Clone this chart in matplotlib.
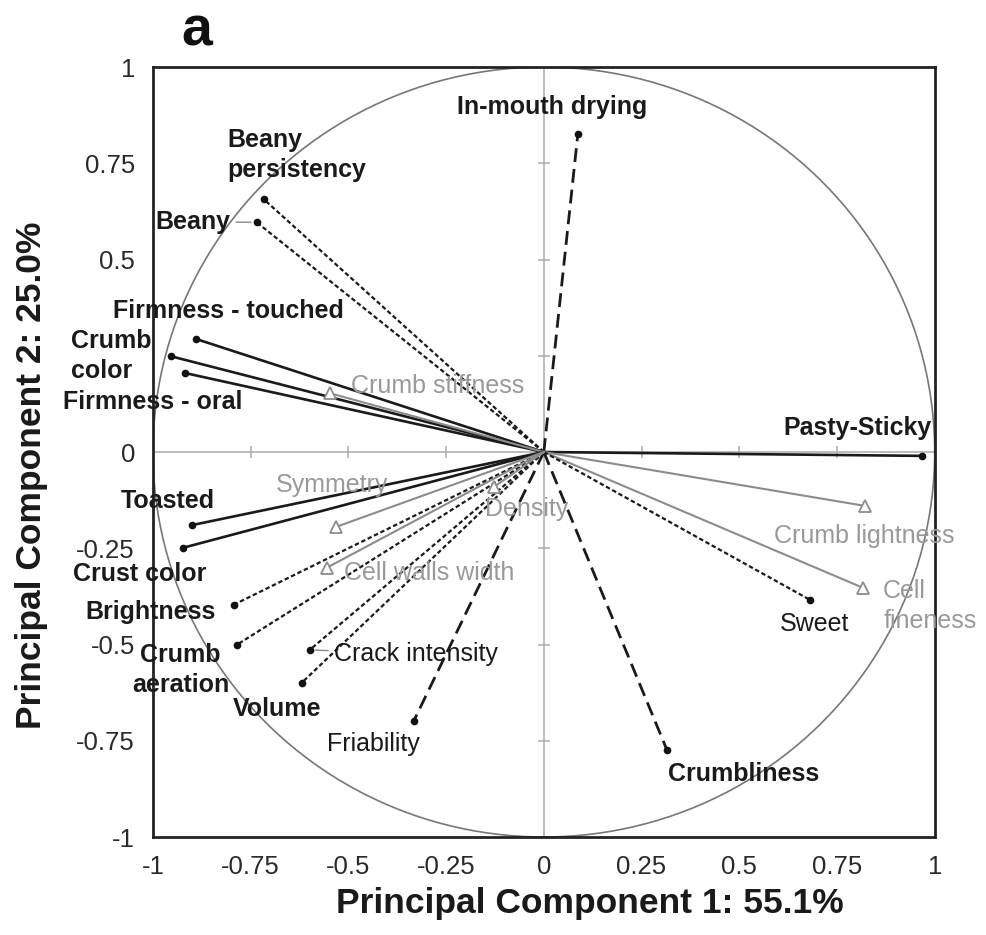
import numpy as np
import matplotlib.pyplot as plt

plt.rcParams['font.family'] = ['Liberation Sans', 'DejaVu Sans']

# PCA loadings
names = ['In-mouth drying', 'Beany\npersistency', 'Beany', 'Firmness - touched',
         'Crumb\ncolor', 'Firmness - oral', 'Crumb stiffness', 'Pasty-Sticky',
         'Crumb lightness', 'Cell\nfineness', 'Sweet', 'Crumbliness', 'Friability',
         'Volume', 'Crack intensity', 'Crumb\naeration', 'Brightness', 'Crust color',
         'Toasted', 'Symmetry', 'Cell walls width', 'Density']
pc1 = [0.087, -0.717, -0.735, -0.891, -0.955, -0.917, -0.548, 0.968,
       0.822, 0.817, 0.681, 0.315, -0.333, -0.620, -0.599, -0.786,
       -0.794, -0.924, -0.901, -0.533, -0.556, -0.128]
pc2 = [0.826, 0.657, 0.597, 0.294, 0.249, 0.205, 0.153, -0.010,
       -0.140, -0.353, -0.384, -0.774, -0.699, -0.600, -0.514, -0.501,
       -0.397, -0.249, -0.190, -0.195, -0.301, -0.091]
group = ['dashed', 'dotted', 'dotted', 'solid', 'solid', 'solid', 'gray', 'solid',
         'gray', 'gray', 'dotted', 'dashed', 'dashed', 'dotted', 'dotted', 'dotted',
         'dotted', 'solid', 'solid', 'gray', 'gray', 'gray']
bold = [True, True, True, True, True, True, False, True,
        False, False, False, True, False, True, False, True,
        True, True, True, False, False, False]

ticks = [-1, -0.75, -0.5, -0.25, 0, 0.25, 0.5, 0.75, 1]
xtick_labels = ['-1', '-0.75', '-0.5', '-0.25', '0', '0.25', '0.5', '0.75', '1']
ytick_labels = ['-1', '-0.75', '-0.5', '-0.25', '0', '', '0.5', '0.75', '1']

# label placement: (dx, dy) in pixels from the point, horizontal alignment
label_pos = {
    'In-mouth drying': (-26, 27, 'center'),
    'Beany\npersistency': (-36, 44, 'left'),
    'Beany': (-26, 0, 'right'),
    'Firmness - touched': (33, 28, 'center'),
    'Crumb\ncolor': (-100, 0, 'left'),
    'Firmness - oral': (-122, -29, 'left'),
    'Crumb stiffness': (21, 7, 'left'),
    'Pasty-Sticky': (9, 28, 'right'),
    'Crumb lightness': (-1, -30, 'center'),
    'Cell\nfineness': (20, -18, 'left'),
    'Sweet': (4, -24, 'center'),
    'Crumbliness': (1, -24, 'left'),
    'Friability': (-40, -23, 'center'),
    'Volume': (-24, -26, 'center'),
    'Crack intensity': (24, -4, 'left'),
    'Crumb\naeration': (-56, -25, 'center'),
    'Brightness': (-18, -7, 'right'),
    'Crust color': (-110, -26, 'left'),
    'Toasted': (-71, 24, 'left'),
    'Symmetry': (-60, 42, 'left'),
    'Cell walls width': (17, -5, 'left'),
    'Density': (-9, -22, 'left'),
}
leaders = ['Beany', 'Crack intensity']

styles = {
    'solid': dict(color='#1a1a1a', lw=1.9, ls='-'),
    'dotted': dict(color='#1a1a1a', lw=1.6, ls=(0, (2, 1.2))),
    'dashed': dict(color='#1a1a1a', lw=2.0, ls=(0, (5, 2.5))),
    'gray': dict(color='#8c8c8c', lw=1.5, ls='-'),
}

fig = plt.figure(figsize=(9.87, 9.35), dpi=100)
ax = fig.add_axes([0.155, 0.1048, 0.792, 0.8235])

# crosshair with small tick marks
ax.axhline(0, color='#b0b0b0', lw=1.2, zorder=1)
ax.axvline(0, color='#b0b0b0', lw=1.2, zorder=1)
tk = np.array(ticks)
ax.plot(tk, np.zeros_like(tk), ls='none', marker='|', ms=9, color='#b0b0b0', mew=1.2, zorder=1)
ax.plot(np.zeros_like(tk), tk, ls='none', marker='_', ms=9, color='#b0b0b0', mew=1.2, zorder=1)

theta = np.linspace(0, 2 * np.pi, 400)
ax.plot(np.cos(theta), np.sin(theta), color='#777777', lw=1.2, zorder=1)

for n, x, y, g, b in zip(names, pc1, pc2, group, bold):
    st = styles[g]
    ax.plot([0, x], [0, y], color=st['color'], lw=st['lw'], ls=st['ls'], zorder=3)
    if g == 'gray':
        ax.plot(x, y, marker='^', ms=9, mfc='white', mec='#8c8c8c', mew=1.3, zorder=4)
        tcol = '#999999'
    else:
        ax.plot(x, y, marker='o', ms=4.5, color='#111111', zorder=4)
        tcol = '#1a1a1a'
    dx, dy, ha = label_pos[n]
    arrow = dict(arrowstyle='-', color='#888888', lw=1, shrinkA=2, shrinkB=4) if n in leaders else None
    ax.annotate(n, (x, y), xytext=(dx, dy), textcoords='offset pixels',
                ha=ha, va='center', fontsize=18, color=tcol,
                fontweight='bold' if b else 'normal', linespacing=1.3,
                arrowprops=arrow, zorder=5, annotation_clip=False)

ax.set_xlim(-1, 1)
ax.set_ylim(-1, 1)
ax.set_xticks(ticks)
ax.set_xticklabels(xtick_labels)
ax.set_yticks(ticks)
ax.set_yticklabels(ytick_labels)
ax.tick_params(length=0, labelsize=18.5, labelcolor='#2a2a2a', pad=13)
for sp in ax.spines.values():
    sp.set_linewidth(2)
    sp.set_color('#222222')

fig.text(590 / 987, 1 - 903 / 935, 'Principal Component 1: 55.1%', ha='center', va='center',
         fontsize=25.5, fontweight='bold', color='#1a1a1a')
fig.text(32 / 987, 1 - 475 / 935, 'Principal Component 2: 25.0%', ha='center', va='center',
         rotation=90, fontsize=25.5, fontweight='bold', color='#1a1a1a')
fig.text(197 / 987, 1 - 32 / 935, 'a', ha='center', va='center', fontsize=40,
         fontweight='bold', color='#111111')

fig.savefig('out.png', dpi=100)
